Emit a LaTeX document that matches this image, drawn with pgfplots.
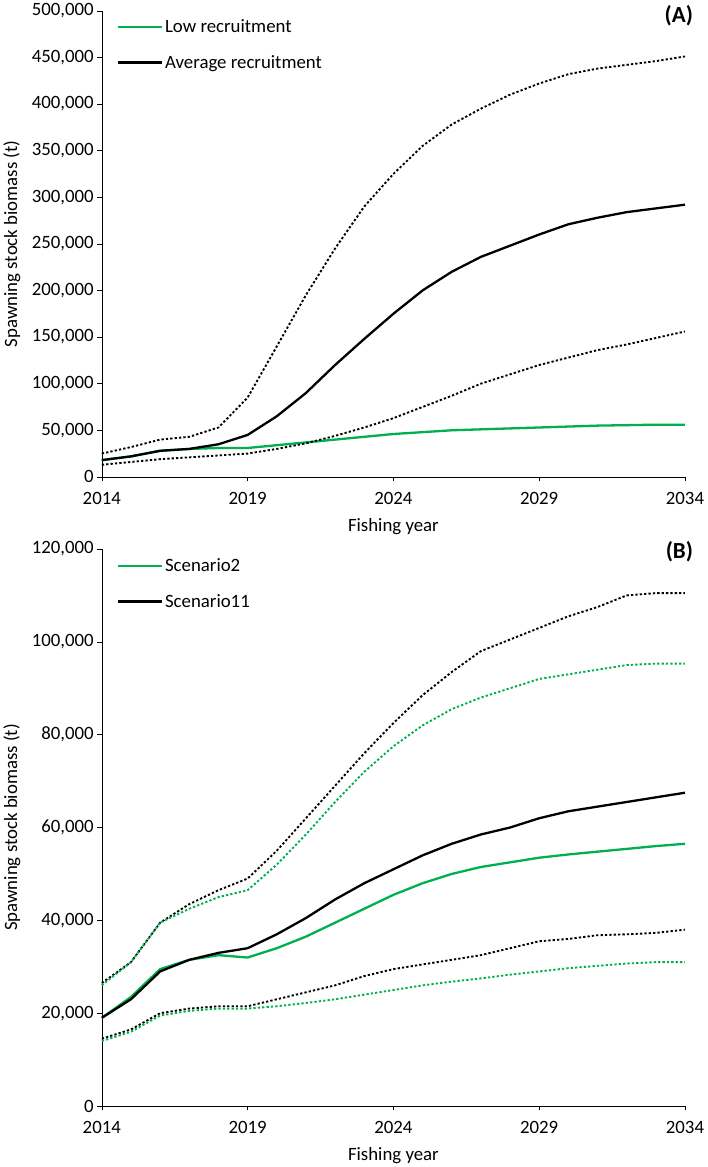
\documentclass[border=0pt]{standalone}
\usepackage{pgfplots}
\pgfplotsset{compat=1.18}
\usepackage{fontspec}
\setmainfont{Carlito}
\definecolor{grn}{RGB}{0,176,80}
\pgfplotsset{
 common/.style={
  scale only axis, width=558bp, xmin=2014, xmax=2034, xtick={2014,2019,...,2034},
  axis x line*=bottom, axis y line*=left, tick align=outside,
  tick style={black, thin}, axis line style={black,thin},
  x tick label style={/pgf/number format/1000 sep={}, yshift=-7bp},
  y tick label style={/pgf/number format/.cd, fixed, 1000 sep={,}},
  /pgf/number format/assume math mode=true,
  tick label style={font=\fontsize{18bp}{20bp}\selectfont},
  label style={font=\fontsize{18bp}{20bp}\selectfont},
  xlabel={Fishing year}, ylabel={Spawning stock biomass (t)},
  xlabel style={yshift=-6bp}, ylabel style={yshift=4bp},
  legend style={draw=none, fill=none, at={(0.02,0.99)}, anchor=north west, font=\fontsize{18bp}{20bp}\selectfont, row sep=16bp},
  legend cell align=left,
  legend image code/.code={\draw[#1] (0bp,0bp) -- (42bp,0bp);},
  every axis plot/.append style={line width=2.2bp},
  clip=false,
 }}
\begin{document}
\begin{tikzpicture}[x=1bp,y=1bp]
\begin{axis}[common, at={(0,0)}, height=446bp, ymin=0, ymax=500000, ytick={0,50000,...,500000}, scaled y ticks=false]
\addplot[grn] coordinates {(2014,18000)(2015,22000)(2016,28000)(2017,30000)(2018,31000)(2019,31000)(2020,34000)(2021,37000)(2022,40000)(2023,43000)(2024,46000)(2025,48000)(2026,50000)(2027,51000)(2028,52000)(2029,53000)(2030,54000)(2031,55000)(2032,55500)(2033,56000)(2034,56000)};
\addlegendentry{Low recruitment}
\addplot[black] coordinates {(2014,18000)(2015,22000)(2016,28000)(2017,30000)(2018,35000)(2019,45000)(2020,65000)(2021,90000)(2022,120000)(2023,148000)(2024,175000)(2025,200000)(2026,220000)(2027,236000)(2028,248000)(2029,260000)(2030,271000)(2031,278000)(2032,284000)(2033,288000)(2034,292000)};
\addlegendentry{Average recruitment}
\addplot[black, dotted, line width=1.8bp, forget plot] coordinates {(2014,25000)(2015,32000)(2016,40000)(2017,43000)(2018,53000)(2019,85000)(2020,140000)(2021,195000)(2022,245000)(2023,290000)(2024,325000)(2025,355000)(2026,378000)(2027,395000)(2028,410000)(2029,422000)(2030,432000)(2031,438000)(2032,442000)(2033,446000)(2034,451000)};
\addplot[black, dotted, line width=1.8bp, forget plot] coordinates {(2014,13000)(2015,16000)(2016,19000)(2017,21000)(2018,23000)(2019,25000)(2020,30000)(2021,36000)(2022,44000)(2023,53000)(2024,63000)(2025,75000)(2026,87000)(2027,100000)(2028,110000)(2029,120000)(2030,128000)(2031,136000)(2032,142000)(2033,149000)(2034,156000)};
\node[font=\bfseries\fontsize{22bp}{24bp}\selectfont, anchor=north east] at (rel axis cs:1.02,1.02) {(A)};
\end{axis}
\begin{axis}[common, at={(0,-602bp)}, height=533bp, ymin=0, ymax=120000, ytick={0,20000,...,120000}, scaled y ticks=false]
\addplot[grn] coordinates {(2014,19000)(2015,23500)(2016,29500)(2017,31500)(2018,32500)(2019,32000)(2020,34000)(2021,36500)(2022,39500)(2023,42500)(2024,45500)(2025,48000)(2026,50000)(2027,51500)(2028,52500)(2029,53500)(2030,54200)(2031,54800)(2032,55400)(2033,56000)(2034,56500)};
\addlegendentry{Scenario2}
\addplot[black] coordinates {(2014,19000)(2015,23000)(2016,29000)(2017,31500)(2018,33000)(2019,34000)(2020,37000)(2021,40500)(2022,44500)(2023,48000)(2024,51000)(2025,54000)(2026,56500)(2027,58500)(2028,60000)(2029,62000)(2030,63500)(2031,64500)(2032,65500)(2033,66500)(2034,67500)};
\addlegendentry{Scenario11}
\addplot[black, dotted, line width=1.8bp, forget plot] coordinates {(2014,26500)(2015,31000)(2016,39500)(2017,43500)(2018,46500)(2019,49000)(2020,55000)(2021,62000)(2022,69000)(2023,76000)(2024,82500)(2025,88500)(2026,93500)(2027,98000)(2028,100500)(2029,103000)(2030,105500)(2031,107500)(2032,110000)(2033,110500)(2034,110500)};
\addplot[grn, dotted, line width=1.8bp, forget plot] coordinates {(2014,26000)(2015,31000)(2016,39500)(2017,42500)(2018,45000)(2019,46500)(2020,52000)(2021,58500)(2022,65500)(2023,72000)(2024,77500)(2025,82000)(2026,85500)(2027,88000)(2028,90000)(2029,92000)(2030,93000)(2031,94000)(2032,95000)(2033,95300)(2034,95300)};
\addplot[black, dotted, line width=1.8bp, forget plot] coordinates {(2014,14500)(2015,16500)(2016,20000)(2017,21000)(2018,21500)(2019,21500)(2020,23000)(2021,24500)(2022,26000)(2023,28000)(2024,29500)(2025,30500)(2026,31500)(2027,32500)(2028,34000)(2029,35500)(2030,36000)(2031,36800)(2032,37000)(2033,37300)(2034,38000)};
\addplot[grn, dotted, line width=1.8bp, forget plot] coordinates {(2014,14000)(2015,16000)(2016,19500)(2017,20500)(2018,21000)(2019,21000)(2020,21500)(2021,22200)(2022,23000)(2023,24000)(2024,25000)(2025,26000)(2026,26800)(2027,27500)(2028,28300)(2029,29000)(2030,29700)(2031,30200)(2032,30700)(2033,31000)(2034,31000)};
\node[font=\bfseries\fontsize{22bp}{24bp}\selectfont, anchor=north east] at (rel axis cs:1.02,1.02) {(B)};
\end{axis}
\end{tikzpicture}
\end{document}
